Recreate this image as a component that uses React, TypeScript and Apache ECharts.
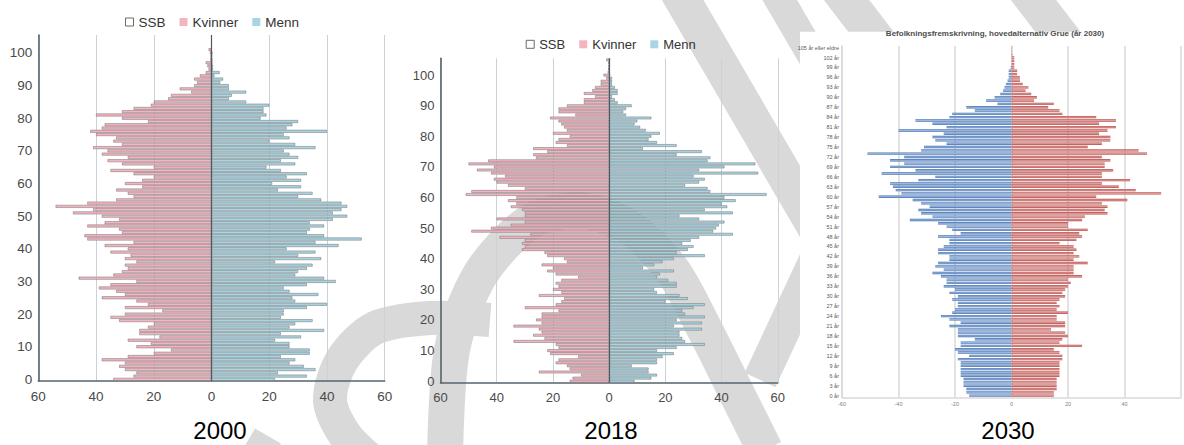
import React, { useEffect, useRef } from "react";
import * as echarts from "echarts";

// Ages 0..105 (category axis)
const AGES: string[] = Array.from({ length: 106 }, (_, i) => String(i));

// 2000 — population by age (index = age)
const F2000 = [
  34, 27, 26, 30, 32, 30, 38, 29, 20, 14,
  26, 21, 29, 18, 25, 25, 22, 20, 32, 35,
  30, 17, 30, 22, 26, 38, 30, 33, 39, 35,
  26, 46, 34, 31, 29, 30, 26, 30, 28, 35,
  29, 37, 27, 43, 44, 31, 32, 43, 37, 32,
  38, 48, 41, 54, 43, 33, 27, 29, 33, 24,
  30, 24, 20, 27, 35, 20, 31, 36, 29, 38,
  36, 41, 31, 34, 33, 40, 42, 38, 37, 22,
  31, 40, 31, 27, 21, 20, 15, 14, 7, 11,
  6, 5, 6, 4, 2, 1, 1.4, 2, 0.4, 0.3,
  0.5, 1, 0, 0, 0, 0,
];
const M2000 = [
  22, 33, 23, 36, 32, 27, 29, 24, 34, 34,
  27, 27, 22, 31, 24, 39, 27, 29, 35, 24,
  25, 25, 33, 40, 29, 28, 37, 27, 25, 33,
  43, 39, 29, 30, 33, 35, 22, 38, 30, 36,
  26, 44, 36, 52, 39, 33, 34, 39, 34, 42,
  47, 42, 45, 47, 45, 38, 30, 35, 23, 31,
  21, 31, 26, 33, 24, 19, 29, 24, 30, 27,
  25, 36, 29, 20, 27, 25, 40, 26, 28, 30,
  17, 19, 18, 18, 20, 12, 6, 7, 12, 6,
  6, 3, 4, 1, 2.8, 0.5, 0.5, 0.3, 0.3, 0.2,
  0.3, 0, 0, 0, 0, 0,
];

// 2018
const F2018 = [
  14, 13, 10, 25, 14, 15, 19, 18, 11, 21,
  22, 18, 19, 34, 23, 27, 24, 25, 34, 24,
  26, 24, 24, 18, 30, 19, 17, 16, 25, 17,
  20, 18, 19, 17, 11, 19, 22, 20, 24, 15,
  16, 22, 23, 31, 30, 31, 30, 39, 28, 49,
  42, 35, 30, 40, 30, 30, 31, 35, 33, 36,
  33, 51, 49, 30, 36, 40, 41, 37, 42, 47,
  41, 50, 43, 26, 27, 22, 27, 15, 19, 18,
  14, 20, 15, 16, 17, 18, 21, 12, 18, 18,
  15, 9, 9, 5, 9, 6, 5, 3, 3, 1,
  2, 0.5, 0.3, 0.2, 0.2, 1,
];
const M2018 = [
  9, 15, 17, 14, 14, 8, 17, 17, 19, 23,
  17, 24, 34, 27, 26, 25, 25, 33, 23, 33,
  24, 34, 27, 26, 30, 34, 20, 28, 25, 17,
  16, 24, 24, 21, 17, 18, 23, 12, 16, 19,
  23, 34, 24, 28, 30, 26, 29, 32, 44, 37,
  38, 39, 41, 32, 25, 44, 34, 42, 40, 45,
  41, 56, 36, 35, 27, 32, 34, 30, 53, 32,
  41, 52, 35, 36, 24, 33, 12, 24, 17, 14,
  15, 18, 13, 11, 9, 10, 15, 6, 5, 6,
  8, 3, 2, 1, 3, 3, 2, 1, 1, 1,
  0.3, 0.2, 0, 0, 0, 0.3,
];

// 2030 projection
const M2030 = [
  15, 16, 16, 17, 17, 17, 18, 18, 18, 18,
  18, 19, 15, 19, 20, 18, 18, 13, 19, 19,
  19, 22, 18, 22, 25, 21, 20, 19, 19, 21,
  19, 22, 20, 24, 23, 23, 25, 28, 24, 27,
  26, 22, 22, 26, 26, 24, 22, 22, 26, 18,
  21, 23, 26, 36, 28, 32, 33, 29, 32, 35,
  47, 39, 41, 42, 43, 33, 27, 46, 34, 43,
  38, 43, 38, 51, 32, 31, 23, 27, 28, 24,
  40, 23, 28, 34, 22, 21, 13, 16, 5, 9,
  6, 4, 3, 2.5, 2, 1.4, 1, 1, 1, 0.3,
  0, 0, 0, 0, 0, 0,
];
const F2030 = [
  15, 15, 16, 16, 16, 16, 17, 17, 17, 17,
  17, 18, 18, 17, 15, 25, 17, 18, 20, 19,
  14, 19, 19, 16, 16, 20, 16, 17, 16, 17,
  19, 18, 19, 20, 21, 20, 25, 22, 22, 22,
  27, 22, 24, 22, 23, 22, 17, 23, 25, 24,
  27, 20, 20, 25, 26, 34, 33, 34, 32, 41,
  30, 53, 44, 38, 32, 42, 32, 32, 36, 33,
  33, 35, 32, 48, 45, 27, 32, 35, 35, 31,
  34, 37, 31, 37, 30, 18, 17, 13, 15, 8,
  9, 7, 5, 6, 4, 3, 3, 2, 2, 1,
  1, 1, 1, 0.3, 0.2, 0.2,
];

const LEGEND_NAMES = ["SSB", "Kvinner", "Menn"];
const YEAR_LABELS = ["2000", "2018", "2030"];
const TITLE_2030 = "Befolkningsfremskrivning, hovedalternativ Grue (år 2030)";

const PINK = "#f6b4c1";
const BLUE = "#a8d5e3";
const BORDER = "#6e6e6e";
const AXIS_DARK = "#56656d";
const WM = "#d9d9d9";

export default function App() {
  const ref = useRef<HTMLDivElement>(null);

  useEffect(() => {
    if (!ref.current) return;
    const chart = echarts.init(ref.current, null, { renderer: "svg" });
    const neg = (a: number[]) => a.map((v) => -v);

    const legendData = [
      { name: LEGEND_NAMES[0], icon: "rect", itemStyle: { color: "#fff", borderColor: "#6b6b6b", borderWidth: 1 } },
      { name: LEGEND_NAMES[1], icon: "rect", itemStyle: { color: PINK, borderWidth: 0 } },
      { name: LEGEND_NAMES[2], icon: "rect", itemStyle: { color: BLUE, borderWidth: 0 } },
    ];

    const pyrX = (gi: number, fs: number) => ({
      type: "value",
      gridIndex: gi,
      min: -60,
      max: 60,
      interval: 20,
      axisLine: { show: true, onZero: false, lineStyle: { color: AXIS_DARK, width: 1.6 } },
      axisTick: { show: false },
      axisLabel: {
        formatter: (v: number) => String(Math.abs(v)),
        color: "#4a4a4a",
        fontSize: fs,
        fontFamily: "Liberation Sans",
        margin: 8,
      },
      splitLine: { show: true, lineStyle: { color: "#c9d2d8", width: 1 } },
    });
    const pyrY = (gi: number, fs: number) => ({
      type: "category",
      gridIndex: gi,
      data: AGES,
      axisLine: { show: true, onZero: false, lineStyle: { color: AXIS_DARK, width: 1.6 } },
      axisTick: { show: false },
      axisLabel: { interval: 9, color: "#4a4a4a", fontSize: fs, fontFamily: "Liberation Sans", margin: 6 },
      splitLine: { show: false },
    });

    const pyrSeries = (gi: number, f: number[], m: number[]) => [
      {
        name: "SSB",
        type: "bar",
        xAxisIndex: gi,
        yAxisIndex: gi,
        data: [],
        barGap: "-100%",
        barCategoryGap: "12%",
        itemStyle: { color: "#fff", borderColor: "#6b6b6b" },
      },
      {
        name: "Kvinner",
        type: "bar",
        xAxisIndex: gi,
        yAxisIndex: gi,
        data: neg(f),
        barGap: "-100%",
        barCategoryGap: "12%",
        itemStyle: { color: PINK, borderColor: BORDER, borderWidth: 0.5 },
      },
      {
        name: "Menn",
        type: "bar",
        xAxisIndex: gi,
        yAxisIndex: gi,
        data: m,
        barGap: "-100%",
        barCategoryGap: "12%",
        itemStyle: { color: BLUE, borderColor: BORDER, borderWidth: 0.5 },
        markLine: {
          silent: true,
          symbol: ["none", "none"],
          label: { show: false },
          lineStyle: { color: "#4f5b62", width: 1.2, type: "solid" },
          data: [{ xAxis: 0 }],
        },
      },
    ];

    const wm = (points: number[][], w: number, smooth = 0) => ({
      type: "polyline",
      z: -10,
      silent: true,
      shape: { points, smooth },
      style: { stroke: WM, lineWidth: w, fill: null, lineCap: "butt", lineJoin: "round" },
    });

    const yearText = (x: number, t: string) => ({
      type: "text",
      z: 5,
      x,
      y: 430,
      style: { text: t, fill: "#000", font: "24px 'Liberation Sans'", align: "center", verticalAlign: "middle" },
    });

    const option: any = {
      animation: false,
      backgroundColor: "#ffffff",
      grid: [
        { left: 38.3, top: 35, width: 346.4, height: 346 },
        { left: 440.5, top: 58.3, width: 337.3, height: 324.4 },
        { left: 842, top: 45.9, width: 346.5, height: 351.4 },
      ],
      legend: [
        {
          left: 125,
          top: 15,
          padding: 0,
          itemWidth: 8,
          itemHeight: 8,
          itemGap: 14,
          selectedMode: false,
          textStyle: { fontSize: 13.5, color: "#333", fontFamily: "Liberation Sans" },
          data: legendData,
        },
        {
          left: 525.7,
          top: 37.8,
          padding: 0,
          itemWidth: 8,
          itemHeight: 8,
          itemGap: 14,
          selectedMode: false,
          textStyle: { fontSize: 13, color: "#333", fontFamily: "Liberation Sans" },
          data: legendData,
        },
      ],
      xAxis: [
        pyrX(0, 13.5),
        pyrX(1, 13),
        {
          type: "value",
          gridIndex: 2,
          min: -60,
          max: 60,
          interval: 20,
          axisLine: { show: true, lineStyle: { color: "#d9d9d9", width: 1.5 } },
          axisTick: { show: false },
          axisLabel: {
            formatter: (v: number) => (v === 60 ? "" : String(v)),
            color: "#7f7f7f",
            fontSize: 5.5,
            fontFamily: "Liberation Sans",
            margin: 4,
          },
          splitLine: { show: true, lineStyle: { color: "#d9d9d9", width: 1.5 } },
        },
      ],
      yAxis: [
        pyrY(0, 13.5),
        pyrY(1, 13),
        {
          type: "category",
          gridIndex: 2,
          data: AGES,
          axisLine: { show: true, onZero: false, lineStyle: { color: "#d9d9d9", width: 1.5 } },
          axisTick: { show: false },
          axisLabel: {
            interval: 2,
            formatter: (v: string) => (v === "105" ? "105 år eller eldre" : v + " år"),
            color: "#595959",
            fontSize: 5.5,
            fontFamily: "Liberation Sans",
            margin: 3,
          },
          splitLine: { show: false },
        },
      ],
      series: [
        ...pyrSeries(0, F2000, M2000),
        ...pyrSeries(1, F2018, M2018),
        {
          name: "Menn 2030",
          type: "bar",
          xAxisIndex: 2,
          yAxisIndex: 2,
          data: neg(M2030),
          barGap: "-100%",
          barCategoryGap: "28%",
          itemStyle: {
            color: new echarts.graphic.LinearGradient(0, 0, 0, 1, [
              { offset: 0, color: "#3f6cae" },
              { offset: 0.5, color: "#9cb9e0" },
              { offset: 1, color: "#3f6cae" },
            ]),
          },
        },
        {
          name: "Kvinner 2030",
          type: "bar",
          xAxisIndex: 2,
          yAxisIndex: 2,
          data: F2030,
          barGap: "-100%",
          barCategoryGap: "28%",
          itemStyle: {
            color: new echarts.graphic.LinearGradient(0, 0, 0, 1, [
              { offset: 0, color: "#b44643" },
              { offset: 0.5, color: "#e3a09e" },
              { offset: 1, color: "#b44643" },
            ]),
          },
        },
      ],
      graphic: [
        // watermark strokes (behind the transparent charts)
        wm([[671, -20], [840, 270]], 36),
        wm([[768, -20], [830, 86]], 30),
        wm([[835, -15], [885, 50]], 36),
        wm([[1022, -15], [1068, 45]], 36),
        wm([[830, 230], [760, 380]], 34),
        wm(
          [[445, 460], [452, 350], [480, 275], [530, 222], [580, 210], [630, 228], [672, 270], [705, 330], [740, 400], [765, 450]],
          36,
          0.3
        ),
        wm([[490, 320], [430, 318], [375, 328], [342, 360], [330, 400], [345, 435], [370, 460]], 34, 0.3),
        wm([[248, 470], [268, 436]], 30),
        // opaque 2030 picture background
        {
          type: "rect",
          z: -5,
          silent: true,
          shape: { x: 800, y: 31.7, width: 384, height: 413.3 },
          style: { fill: "#ffffff" },
        },
        {
          type: "text",
          z: 5,
          x: 995,
          y: 33,
          style: {
            text: TITLE_2030,
            fill: "#4d4d4d",
            font: "bold 8px 'Liberation Sans'",
            align: "center",
            verticalAlign: "middle",
          },
        },
        yearText(220, YEAR_LABELS[0]),
        yearText(611, YEAR_LABELS[1]),
        yearText(1008, YEAR_LABELS[2]),
      ],
    };

    chart.setOption(option);
    return () => chart.dispose();
  }, []);

  return (
    <div
      ref={ref}
      style={{ position: "fixed", left: 0, top: 0, width: 1184, height: 445, background: "#ffffff" }}
    />
  );
}
